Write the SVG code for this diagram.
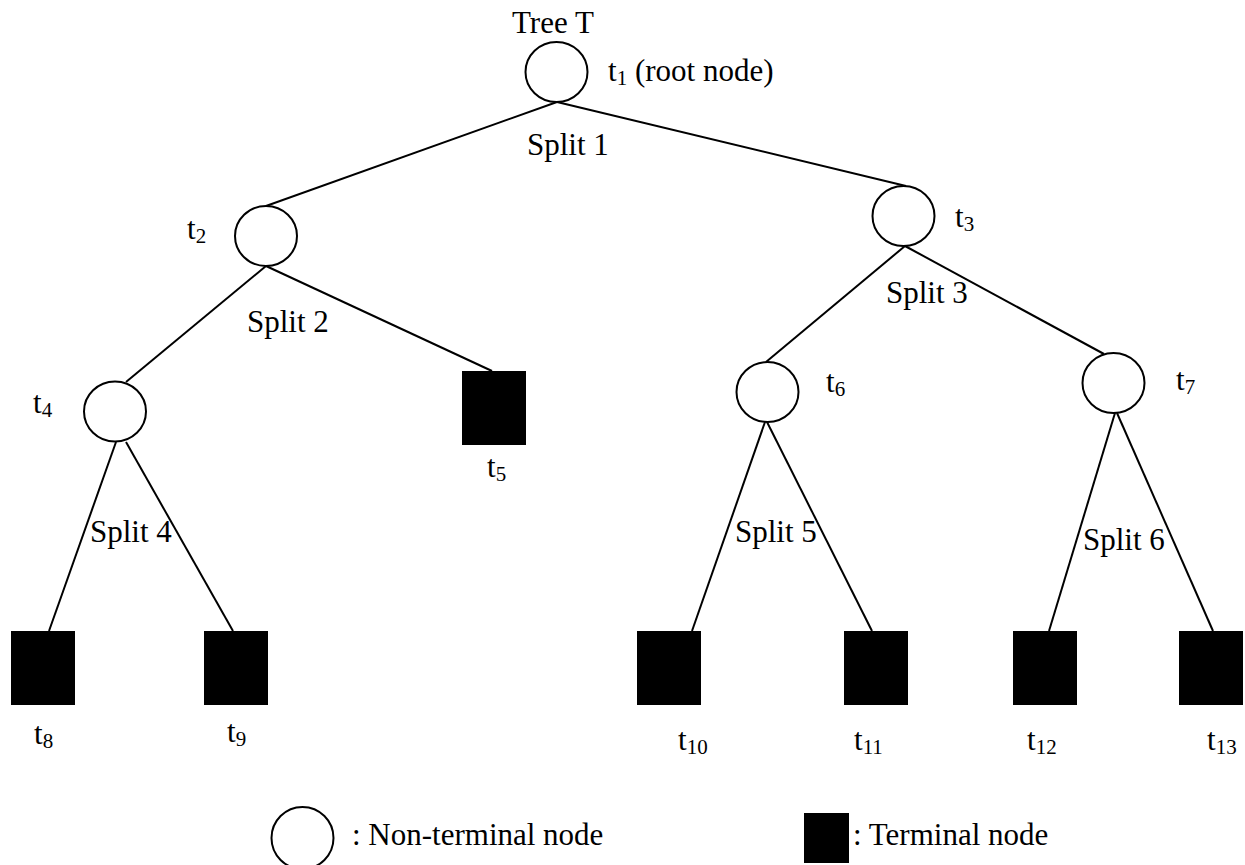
<svg xmlns="http://www.w3.org/2000/svg" width="1245" height="865" viewBox="0 0 1245 865">
  <style>
    text { font-family: "Liberation Serif", "Times New Roman", serif; font-size: 31px; fill: #000; }
    .sub { font-size: 21px; }
    .split { stroke: #000; stroke-width: 2; fill: none; }
    .inner { fill: #fff; stroke: #000; stroke-width: 2; }
    .leaf { fill: #000; stroke: none; }
  </style>
  <rect width="1245" height="865" fill="#fff"/>

  <!-- branches -->
  <g id="connectors" class="split">
    <line x1="557" y1="102" x2="266" y2="206"/>
    <line x1="557" y1="102" x2="906" y2="186"/>
    <line x1="266" y1="266" x2="126" y2="382"/>
    <line x1="266" y1="266" x2="492" y2="371"/>
    <line x1="905" y1="246" x2="766" y2="362"/>
    <line x1="905" y1="246" x2="1104" y2="354"/>
    <line x1="116" y1="442" x2="49" y2="631"/>
    <line x1="126" y1="442" x2="233" y2="631"/>
    <line x1="765" y1="422" x2="692" y2="631"/>
    <line x1="767" y1="422" x2="872" y2="631"/>
    <line x1="1115" y1="413" x2="1049" y2="631"/>
    <line x1="1117" y1="413" x2="1213" y2="631"/>
  </g>

  <text x="512" y="33">Tree T</text>

  <g id="t1">
    <ellipse class="inner" cx="556.5" cy="72" rx="31" ry="30"/>
    <text x="608" y="81">t<tspan class="sub" dy="4">1</tspan><tspan dy="-4"> (root node)</tspan></text>
  </g>
  <g id="t2">
    <ellipse class="inner" cx="266" cy="236" rx="31" ry="30"/>
    <text x="187" y="239">t<tspan class="sub" dy="4">2</tspan></text>
  </g>
  <g id="t3">
    <ellipse class="inner" cx="903.5" cy="216" rx="31" ry="30"/>
    <text x="955" y="227">t<tspan class="sub" dy="4">3</tspan></text>
  </g>
  <g id="t4">
    <ellipse class="inner" cx="115" cy="411.5" rx="31" ry="30"/>
    <text x="33" y="413">t<tspan class="sub" dy="4">4</tspan></text>
  </g>
  <g id="t5">
    <rect class="leaf" x="462" y="371" width="64" height="74"/>
    <text x="487" y="477">t<tspan class="sub" dy="4">5</tspan></text>
  </g>
  <g id="t6">
    <ellipse class="inner" cx="767.5" cy="392" rx="31" ry="30"/>
    <text x="826" y="392">t<tspan class="sub" dy="4">6</tspan></text>
  </g>
  <g id="t7">
    <ellipse class="inner" cx="1113.5" cy="383" rx="31" ry="30"/>
    <text x="1176" y="390">t<tspan class="sub" dy="4">7</tspan></text>
  </g>
  <g id="t8">
    <rect class="leaf" x="11" y="631" width="64" height="74"/>
    <text x="34" y="744">t<tspan class="sub" dy="4">8</tspan></text>
  </g>
  <g id="t9">
    <rect class="leaf" x="204" y="631" width="64" height="74"/>
    <text x="227" y="742">t<tspan class="sub" dy="4">9</tspan></text>
  </g>
  <g id="t10">
    <rect class="leaf" x="637" y="631" width="64" height="74"/>
    <text x="678" y="750">t<tspan class="sub" dy="4">10</tspan></text>
  </g>
  <g id="t11">
    <rect class="leaf" x="844" y="631" width="64" height="74"/>
    <text x="854" y="750">t<tspan class="sub" dy="4">11</tspan></text>
  </g>
  <g id="t12">
    <rect class="leaf" x="1013" y="631" width="64" height="74"/>
    <text x="1027" y="750">t<tspan class="sub" dy="4">12</tspan></text>
  </g>
  <g id="t13">
    <rect class="leaf" x="1179" y="631" width="64" height="74"/>
    <text x="1207" y="750">t<tspan class="sub" dy="4">13</tspan></text>
  </g>

  <!-- split labels -->
  <g id="split-labels">
    <text x="527" y="155">Split 1</text>
    <text x="247" y="332">Split 2</text>
    <text x="886" y="303">Split 3</text>
    <text x="90" y="542">Split 4</text>
    <text x="735" y="542">Split 5</text>
    <text x="1083" y="550">Split 6</text>
  </g>

  <!-- key -->
  <g id="legend">
    <ellipse class="inner" cx="302.5" cy="838" rx="31" ry="31"/>
    <text x="352" y="845">: Non-terminal node</text>
    <rect class="leaf" x="804" y="813" width="45" height="50"/>
    <text x="853" y="845">: Terminal node</text>
  </g>
</svg>
